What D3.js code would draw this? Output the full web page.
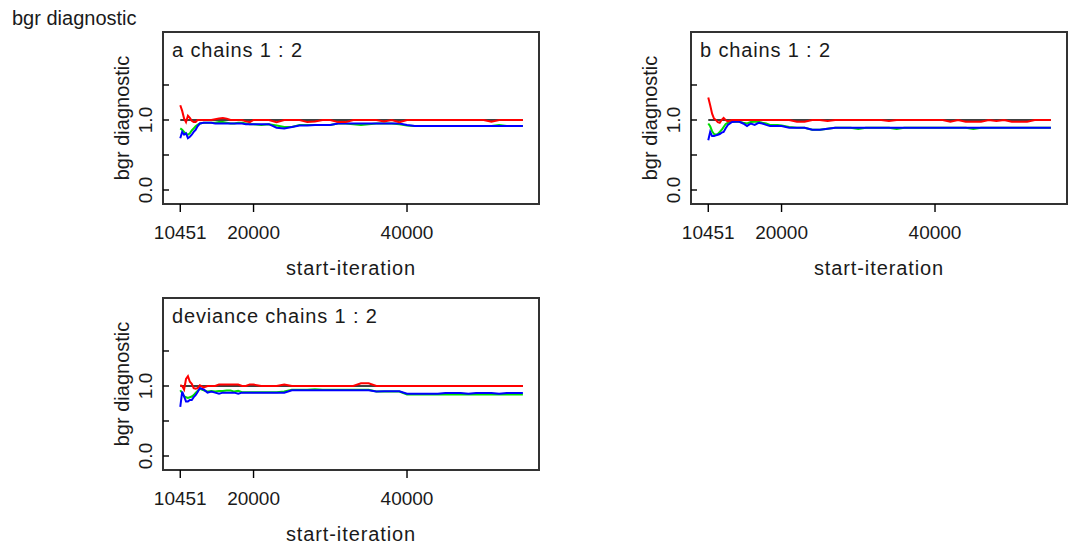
<!DOCTYPE html>
<html>
<head>
<meta charset="utf-8">
<script src="https://d3js.org/d3.v7.min.js"></script>
<style>
body { margin: 0; background: #fff; }
svg { display: block; font-family: "Liberation Sans", Arial, sans-serif; }
</style>
</head>
<body>
<svg width="1069" height="546"></svg>
<script>
// start iterations where the bgr statistic was computed
var iterations = [10451, 10700, 10950, 11200, 11450, 11700, 11950, 12200, 12450, 12700,
    13000, 13500, 14000, 14500, 15000, 15500, 16000, 16500, 17000, 17500,
    18000, 18500, 19000, 19500, 20000, 21000, 22000, 23000, 24000, 25000,
    26000, 27000, 28000, 29000, 30000, 31000, 32000, 33000, 34000, 35000,
    36000, 37000, 38000, 39000, 40000, 41000, 42000, 43000, 44000, 45000,
    46000, 47000, 48000, 49000, 50000, 51000, 52000, 53000, 54000, 55100];

// node a
var aRed = [1.21, 1.13, 1.02, 0.97, 1.06, 1.03, 0.99, 0.97, 0.97, 1.00,
    1.00, 1.00, 1.00, 1.00, 1.01, 1.02, 1.03, 1.02, 1.00, 1.00,
    1.00, 1.00, 0.98, 0.97, 1.00, 1.00, 1.00, 0.97, 1.00, 1.00,
    1.00, 0.97, 0.98, 1.00, 1.00, 0.97, 0.97, 1.00, 1.00, 1.00,
    1.00, 0.98, 1.00, 0.97, 1.00, 1.00, 1.00, 1.00, 1.00, 1.00,
    1.00, 1.00, 1.00, 1.00, 1.00, 0.975, 1.00, 1.00, 1.00, 1.00];
var aGreen = [0.88, 0.86, 0.83, 0.80, 0.79, 0.81, 0.85, 0.88, 0.91, 0.93,
    0.95, 0.96, 0.96, 0.96, 0.96, 0.97, 0.97, 0.96, 0.95, 0.95,
    0.96, 0.96, 0.95, 0.94, 0.94, 0.93, 0.94, 0.92, 0.90, 0.90,
    0.93, 0.93, 0.93, 0.93, 0.93, 0.95, 0.95, 0.94, 0.93, 0.94,
    0.95, 0.95, 0.95, 0.94, 0.92, 0.915, 0.915, 0.915, 0.915, 0.915,
    0.915, 0.915, 0.915, 0.915, 0.915, 0.915, 0.93, 0.915, 0.915, 0.915];
var aBlue = [0.74, 0.83, 0.79, 0.81, 0.74, 0.76, 0.79, 0.83, 0.86, 0.91,
    0.95, 0.96, 0.96, 0.96, 0.95, 0.95, 0.95, 0.95, 0.95, 0.95,
    0.95, 0.95, 0.94, 0.94, 0.94, 0.94, 0.94, 0.89, 0.88, 0.90,
    0.92, 0.92, 0.93, 0.93, 0.93, 0.95, 0.95, 0.95, 0.95, 0.95,
    0.95, 0.95, 0.95, 0.95, 0.93, 0.915, 0.915, 0.915, 0.915, 0.915,
    0.915, 0.915, 0.915, 0.915, 0.915, 0.915, 0.915, 0.915, 0.915, 0.915];

// node b
var bRed = [1.32, 1.21, 1.09, 1.02, 1.00, 0.97, 0.96, 1.00, 1.03, 1.00,
    0.98, 1.00, 1.00, 1.00, 1.00, 1.00, 1.00, 1.00, 1.00, 1.00,
    1.00, 1.00, 1.00, 1.00, 1.00, 1.00, 0.975, 0.975, 1.00, 1.00,
    0.985, 1.00, 1.00, 1.00, 1.00, 1.00, 1.00, 1.00, 0.985, 1.00,
    1.00, 1.00, 1.00, 1.00, 1.00, 1.00, 0.975, 1.00, 0.975, 0.975,
    0.975, 1.00, 0.985, 1.00, 0.975, 0.975, 0.975, 1.00, 1.00, 1.00];
var bGreen = [0.95, 0.91, 0.84, 0.80, 0.79, 0.80, 0.83, 0.86, 0.90, 0.94,
    0.96, 0.975, 0.975, 0.975, 0.96, 0.95, 0.97, 0.975, 0.975, 0.96,
    0.95, 0.93, 0.93, 0.93, 0.92, 0.90, 0.89, 0.89, 0.86, 0.86,
    0.875, 0.89, 0.89, 0.89, 0.87, 0.89, 0.89, 0.89, 0.89, 0.87,
    0.89, 0.89, 0.89, 0.89, 0.89, 0.89, 0.89, 0.89, 0.89, 0.87,
    0.89, 0.89, 0.89, 0.89, 0.89, 0.89, 0.89, 0.89, 0.89, 0.89];
var bBlue = [0.71, 0.83, 0.77, 0.77, 0.78, 0.79, 0.80, 0.82, 0.83, 0.88,
    0.93, 0.97, 0.975, 0.975, 0.95, 0.915, 0.95, 0.93, 0.96, 0.95,
    0.93, 0.915, 0.915, 0.915, 0.915, 0.89, 0.89, 0.89, 0.86, 0.86,
    0.875, 0.89, 0.89, 0.89, 0.89, 0.89, 0.89, 0.89, 0.89, 0.89,
    0.89, 0.89, 0.89, 0.89, 0.89, 0.89, 0.89, 0.89, 0.89, 0.89,
    0.89, 0.89, 0.89, 0.89, 0.89, 0.89, 0.89, 0.89, 0.89, 0.89];

// deviance
var devRed = [1.01, 1.00, 0.95, 1.10, 1.14, 1.06, 1.03, 0.97, 0.96, 0.97,
    1.01, 0.98, 1.00, 1.00, 1.00, 1.02, 1.02, 1.02, 1.02, 1.02,
    1.02, 1.00, 1.00, 1.02, 1.02, 1.00, 1.00, 1.00, 1.02, 1.00,
    1.00, 1.00, 1.00, 1.00, 1.00, 1.00, 1.00, 1.00, 1.04, 1.04,
    1.00, 1.00, 1.00, 1.00, 1.00, 1.00, 1.00, 1.00, 1.00, 1.00,
    1.00, 1.00, 1.00, 1.00, 1.00, 1.00, 1.00, 1.00, 1.00, 1.00];
var devGreen = [0.94, 0.90, 0.85, 0.84, 0.83, 0.84, 0.85, 0.87, 0.90, 0.93,
    0.96, 0.94, 0.92, 0.93, 0.92, 0.93, 0.93, 0.935, 0.935, 0.92,
    0.93, 0.91, 0.91, 0.91, 0.91, 0.91, 0.91, 0.91, 0.92, 0.945,
    0.945, 0.945, 0.955, 0.945, 0.945, 0.945, 0.945, 0.945, 0.945, 0.945,
    0.92, 0.92, 0.92, 0.92, 0.88, 0.88, 0.88, 0.88, 0.88, 0.88,
    0.88, 0.88, 0.88, 0.88, 0.88, 0.88, 0.88, 0.88, 0.88, 0.88];
var devBlue = [0.70, 0.92, 0.85, 0.78, 0.78, 0.80, 0.80, 0.84, 0.87, 0.91,
    0.97, 0.95, 0.905, 0.92, 0.905, 0.89, 0.905, 0.905, 0.905, 0.905,
    0.89, 0.905, 0.905, 0.905, 0.905, 0.905, 0.905, 0.905, 0.905, 0.94,
    0.94, 0.94, 0.94, 0.94, 0.94, 0.94, 0.94, 0.94, 0.94, 0.94,
    0.92, 0.925, 0.925, 0.925, 0.89, 0.89, 0.89, 0.89, 0.89, 0.90,
    0.90, 0.90, 0.89, 0.90, 0.90, 0.90, 0.89, 0.90, 0.90, 0.90];

var xTicks = [10451, 20000, 40000];
var yTicks = [0, 0.5, 1, 1.5];
var yTickLabels = ["0.0", "", "1.0", ""];
var panelTitles = ["a chains 1 : 2", "b chains 1 : 2", "deviance chains 1 : 2"];

var width = 1069, height = 546;
var boxW = 376, boxH = 172;
var textColor = "#1a1a1a";

var svg = d3.select('svg');

svg.append("text")
    .attr("x", 12)
    .attr("y", 25)
    .attr("font-size", 20)
    .attr("fill", textColor)
    .text("bgr diagnostic");

//draws one bgr panel with its box, axes and the three lines
function drawPanel(left, top, title, red, green, blue){

    var x = d3.scaleLinear().domain([8200, 57200]).range([left, left + boxW]);
    var y = d3.scaleLinear().domain([-0.2, 2.257]).range([top + boxH, top]);

    var g = svg.append("g");

    var line = d3.line()
        .x(function(d, i) { return x(iterations[i]); })
        .y(function(d) { return y(d); });

    // reference line at 1
    g.append("line")
        .attr("x1", x(iterations[0]))
        .attr("x2", x(iterations[iterations.length - 1]))
        .attr("y1", y(1))
        .attr("y2", y(1))
        .attr("stroke", "#000")
        .attr("stroke-width", 1.6);

    var series = [[green, "#00dd00"], [blue, "#0000ff"], [red, "#ff0000"]];
    series.forEach(function(s){
        g.append("path")
            .datum(s[0])
            .attr("d", line)
            .attr("fill", "none")
            .attr("stroke", s[1])
            .attr("stroke-width", 2);
    });

    // frame
    g.append("rect")
        .attr("x", left)
        .attr("y", top)
        .attr("width", boxW)
        .attr("height", boxH)
        .attr("fill", "none")
        .attr("stroke", "#333")
        .attr("stroke-width", 2);

    // y ticks point inward
    g.selectAll(".ytick")
        .data(yTicks)
        .join("line")
        .attr("x1", left)
        .attr("x2", left + 6)
        .attr("y1", function(d) { return y(d); })
        .attr("y2", function(d) { return y(d); })
        .attr("stroke", "#000")
        .attr("stroke-width", 1.4);

    g.selectAll(".ylab")
        .data(yTicks)
        .join("text")
        .attr("transform", function(d) { return "translate(" + (left - 11) + "," + y(d) + ") rotate(-90)"; })
        .attr("text-anchor", "middle")
        .attr("font-size", 19)
        .attr("fill", textColor)
        .text(function(d, i) { return yTickLabels[i]; });

    // x ticks point outward
    g.selectAll(".xtick")
        .data(xTicks)
        .join("line")
        .attr("x1", function(d) { return x(d); })
        .attr("x2", function(d) { return x(d); })
        .attr("y1", top + boxH)
        .attr("y2", top + boxH + 8)
        .attr("stroke", "#000")
        .attr("stroke-width", 1.4);

    g.selectAll(".xlab")
        .data(xTicks)
        .join("text")
        .attr("x", function(d) { return x(d); })
        .attr("y", top + boxH + 35)
        .attr("text-anchor", "middle")
        .attr("font-size", 19)
        .attr("fill", textColor)
        .text(function(d) { return d; });

    g.append("text")
        .attr("x", left + boxW / 2)
        .attr("y", top + boxH + 71)
        .attr("text-anchor", "middle")
        .attr("font-size", 20)
        .attr("letter-spacing", 0.9)
        .attr("fill", textColor)
        .text("start-iteration");

    g.append("text")
        .attr("transform", "translate(" + (left - 34) + "," + (top + boxH / 2) + ") rotate(-90)")
        .attr("text-anchor", "middle")
        .attr("font-size", 20)
        .attr("fill", textColor)
        .text("bgr diagnostic");

    g.append("text")
        .attr("x", left + 9)
        .attr("y", top + 25)
        .attr("font-size", 20)
        .attr("letter-spacing", 0.85)
        .attr("fill", textColor)
        .text(title);
}

drawPanel(163, 32, panelTitles[0], aRed, aGreen, aBlue);
drawPanel(691, 32, panelTitles[1], bRed, bGreen, bBlue);
drawPanel(163, 298, panelTitles[2], devRed, devGreen, devBlue);
</script>
</body>
</html>
